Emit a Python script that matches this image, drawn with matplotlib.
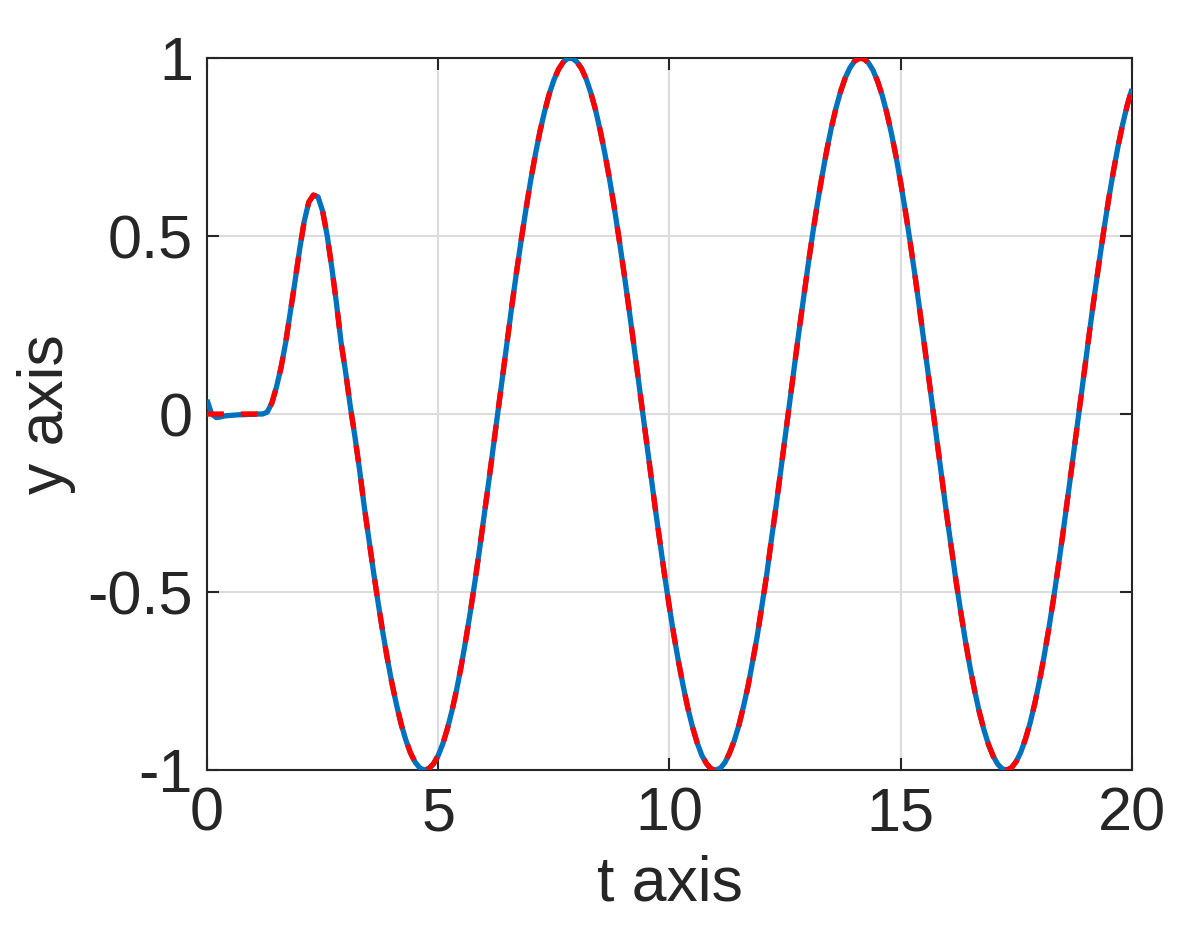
import matplotlib
matplotlib.use("Agg")
import matplotlib.pyplot as plt
import numpy as np

plt.rcParams['font.family'] = ['Liberation Sans', 'DejaVu Sans']

# start-up part, read at 0.1 steps
t_early = [0.0, 0.1, 0.2, 0.3, 0.4, 0.5, 0.6, 0.7, 0.8, 0.9, 1.0, 1.1, 1.2, 1.3,
           1.4, 1.5, 1.6, 1.7, 1.8, 1.9, 2.0, 2.1, 2.2, 2.3, 2.4, 2.5, 2.6, 2.7,
           2.8, 2.9, 3.0, 3.1]
y_early_num = [0.04, 0.0, -0.01, -0.008, -0.005, -0.004, -0.003, -0.002, -0.002,
               -0.001, -0.001, 0.0, 0.0, 0.005, 0.03, 0.075, 0.13, 0.2, 0.285,
               0.37, 0.46, 0.54, 0.595, 0.615, 0.61, 0.57, 0.5, 0.41, 0.31,
               0.2, 0.115, 0.02]
y_early_ref = [0.0, 0.0, 0.0, 0.0, 0.0, 0.0, 0.0, 0.0, 0.0, 0.0, 0.0, 0.0, 0.0,
               0.005, 0.03, 0.075, 0.13, 0.2, 0.285, 0.37, 0.46, 0.54, 0.595,
               0.615, 0.61, 0.57, 0.5, 0.41, 0.31, 0.2, 0.115, 0.02]

# oscillation part, read at 0.1 steps from t = 3.2 to 20
t_late = np.round(np.arange(3.2, 20.001, 0.1), 1)
y_late = [
    -0.065, -0.158, -0.26, -0.351, -0.443, -0.530, -0.612, -0.688, -0.757, -0.818,
    -0.872, -0.916, -0.952, -0.978, -0.994, -1.0, -0.996, -0.982, -0.959, -0.926,
    -0.883, -0.832, -0.773, -0.706, -0.631, -0.551, -0.465, -0.374, -0.279, -0.182,
    -0.083, 0.017, 0.117, 0.215, 0.312, 0.405, 0.494, 0.578, 0.657, 0.729,
    0.794, 0.850, 0.899, 0.938, 0.968, 0.988, 0.999, 0.999, 0.989, 0.970,
    0.941, 0.902, 0.855, 0.798, 0.734, 0.663, 0.585, 0.501, 0.412, 0.319,
    0.223, 0.124, 0.025, -0.075, -0.174, -0.272, -0.366, -0.458, -0.544, -0.625,
    -0.699, -0.766, -0.828, -0.880, -0.924, -0.959, -0.982, -0.997, -1.0, -0.995,
    -0.979, -0.952, -0.918, -0.875, -0.822, -0.764, -0.694, -0.622, -0.537, -0.454,
    -0.357, -0.264, -0.166, -0.066, 0.034, 0.133, 0.232, 0.327, 0.42, 0.509,
    0.592, 0.669, 0.74, 0.804, 0.859, 0.906, 0.944, 0.972, 0.991, 0.999,
    0.998, 0.987, 0.966, 0.935, 0.895, 0.846, 0.788, 0.723, 0.65, 0.571,
    0.487, 0.397, 0.303, 0.206, 0.108, 0.008, -0.092, -0.190, -0.288, -0.381,
    -0.472, -0.557, -0.638, -0.712, -0.778, -0.837, -0.887, -0.929, -0.961, -0.984,
    -0.997, -1.0, -0.993, -0.976, -0.949, -0.912, -0.867, -0.813, -0.751, -0.681,
    -0.605, -0.523, -0.435, -0.343, -0.247, -0.149, -0.05, 0.05, 0.15, 0.248,
    0.343, 0.435, 0.523, 0.606, 0.682, 0.752, 0.814, 0.868, 0.913,
]

x_ticks = [0, 5, 10, 15, 20]
y_ticks = [-1, -0.5, 0, 0.5, 1]
y_tick_labels = ['-1', '-0.5', '0', '0.5', '1']

t = np.concatenate([t_early, t_late])
y_num = np.concatenate([y_early_num, y_late])
y_ref = np.concatenate([y_early_ref, y_late])

fig = plt.figure(figsize=(11.87, 9.33), dpi=100)
ax = fig.add_axes([0.1744, 0.1747, 0.9536 - 0.1744, 0.9378 - 0.1747])

ax.plot(t, y_num, color='#0072BD', lw=3.8, solid_capstyle='butt',
        solid_joinstyle='round', zorder=3)
ax.plot(t, y_ref, color='#FF0000', lw=3.8, dashes=(3.2, 3.2),
        dash_capstyle='butt', dash_joinstyle='round', zorder=4)

ax.set_xlim(0, 20)
ax.set_ylim(-1, 1)
ax.set_xticks(x_ticks)
ax.set_yticks(y_ticks)
ax.set_yticklabels(y_tick_labels)
ax.grid(True, color='#dcdcdc', lw=1.5)
ax.set_axisbelow(True)

for s in ax.spines.values():
    s.set_color('#262626')
    s.set_linewidth(1.5)
ax.tick_params(direction='in', length=8.5, width=1.5, color='#262626',
               labelsize=44, labelcolor='#262626', top=True, right=True)
ax.tick_params(axis='x', pad=12)
ax.tick_params(axis='y', pad=10)
# MATLAB puts the y labels a bit higher than matplotlib's centre
for lbl in ax.get_yticklabels():
    lbl.set_verticalalignment('center_baseline')

ax.set_xlabel('t axis', fontsize=45, color='#262626', labelpad=8)
ax.set_ylabel('y axis', fontsize=45, color='#262626', labelpad=8)

plt.savefig('out.png', dpi=100)
